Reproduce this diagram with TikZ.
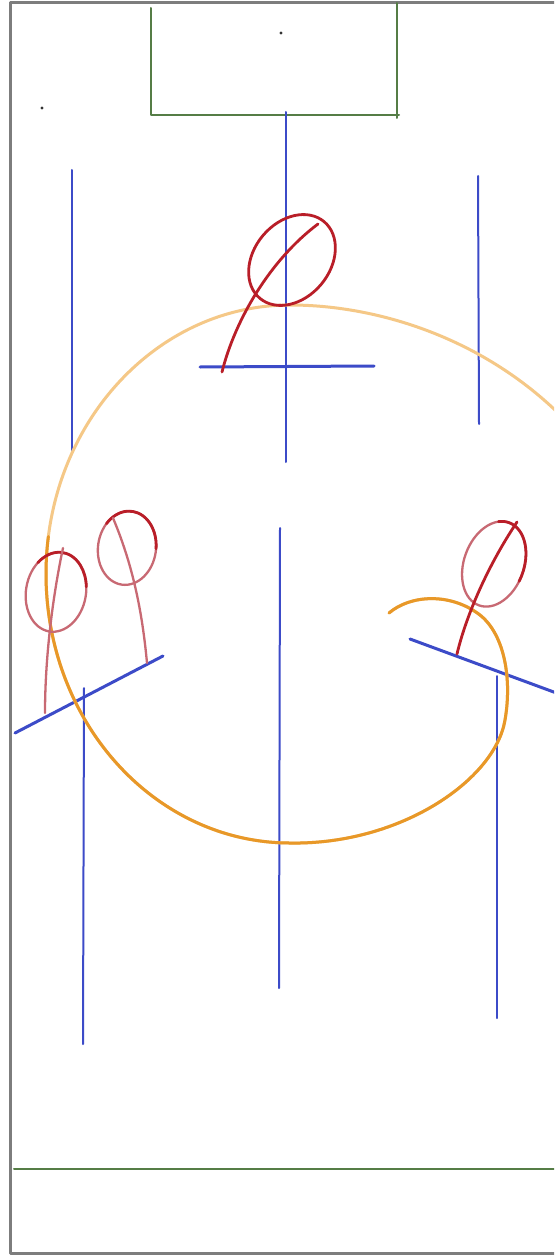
\documentclass[tikz,border=0pt]{standalone}
\definecolor{framegray}{RGB}{125,125,125}
\definecolor{pitchgreen}{RGB}{85,125,70}
\definecolor{penblue}{RGB}{60,75,200}
\definecolor{penred}{RGB}{185,30,40}
\definecolor{penpink}{RGB}{200,105,115}
\definecolor{orangedark}{RGB}{232,152,40}
\definecolor{orangelight}{RGB}{245,200,135}
\begin{document}
\begin{tikzpicture}[x=1pt,y=-1pt,line cap=round,line join=round,
  frame/.style={draw=framegray,line width=3pt},
  pitch/.style={draw=pitchgreen,line width=2pt},
  blueline/.style={draw=penblue,line width=2pt},
  bluebar/.style={draw=penblue,line width=3pt},
  redpen/.style={draw=penred,line width=2.8pt},
  pinkpen/.style={draw=penpink,line width=2.3pt},
  orangepen/.style={line width=3pt}]
\useasboundingbox (0,0) rectangle (554,1257);
\clip (0,0) rectangle (554,1257);
\fill[white] (0,0) rectangle (554,1257);
% frame
\draw[frame] (10,3) rectangle (570,1253);
% pitch lines
\draw[pitch] (151,8) -- (151,115) -- (399,115);
\draw[pitch] (397,3) -- (397,118);
\draw[pitch] (14,1169) -- (560,1169);
\fill[black!80] (42,108) circle[radius=1.6];
\fill[black!80] (281,33) circle[radius=1.6];
% blue player lines
\draw[blueline] (286,112) -- (286,462);
\draw[blueline] (72,170) -- (72,450);
\draw[blueline] (478,176) -- (479,424);
\draw[blueline] (280,528) -- (279,988);
\draw[blueline] (84,688) -- (83,1044);
\draw[blueline] (497,676) -- (497,1018);
\draw[bluebar] (200,367) -- (374,366);
\draw[bluebar] (15,733) -- (163,656);
\draw[bluebar] (410,639) -- (570,698);
% orange circle
\draw[orangepen,draw=orangelight] (389,613) .. controls (410,595) and (450,592) .. (480,615)
  .. controls (505,635) and (512,680) .. (505,720)
  .. controls (495,780) and (400,845) .. (290,843)
  arc[start angle=90,end angle=270,x radius=244,y radius=269]
  .. controls (380,305) and (490,340) .. (570,425);
\draw[orangepen,draw=orangedark] (389,613) .. controls (410,595) and (450,592) .. (480,615)
  .. controls (505,635) and (512,680) .. (505,720)
  .. controls (495,780) and (400,845) .. (290,843)
  arc[start angle=90,end angle=188,x radius=244,y radius=269];
% top figure
\begin{scope}[shift={(292,260)},rotate=50]
 \draw[redpen] (0,0) ellipse[x radius=50,y radius=38];
\end{scope}
\draw[redpen] (222,372) .. controls (235,320) and (270,260) .. (318,224);
% left figure 1
\begin{scope}[shift={(56,592)},rotate=-10]
 \draw[pinkpen] (0,0) ellipse[x radius=30,y radius=40];
 \draw[redpen] (220:30 and 40) arc[start angle=220,end angle=345,x radius=30,y radius=40];
\end{scope}
\draw[pinkpen] (45,713) .. controls (45,660) and (52,600) .. (63,548);
% left figure 2
\begin{scope}[shift={(127,548)},rotate=-8]
 \draw[pinkpen] (0,0) ellipse[x radius=29,y radius=37];
 \draw[redpen] (215:29 and 37) arc[start angle=215,end angle=355,x radius=29,y radius=37];
\end{scope}
\draw[pinkpen] (147,663) .. controls (143,620) and (135,570) .. (113,518);
% right figure
\begin{scope}[shift={(494,564)},rotate=-20]
 \draw[pinkpen] (0,0) ellipse[x radius=30,y radius=44];
 \draw[redpen] (250:30 and 44) arc[start angle=250,end angle=370,x radius=30,y radius=44];
\end{scope}
\draw[redpen] (457,654) .. controls (465,620) and (485,570) .. (517,522);
\end{tikzpicture}
\end{document}
